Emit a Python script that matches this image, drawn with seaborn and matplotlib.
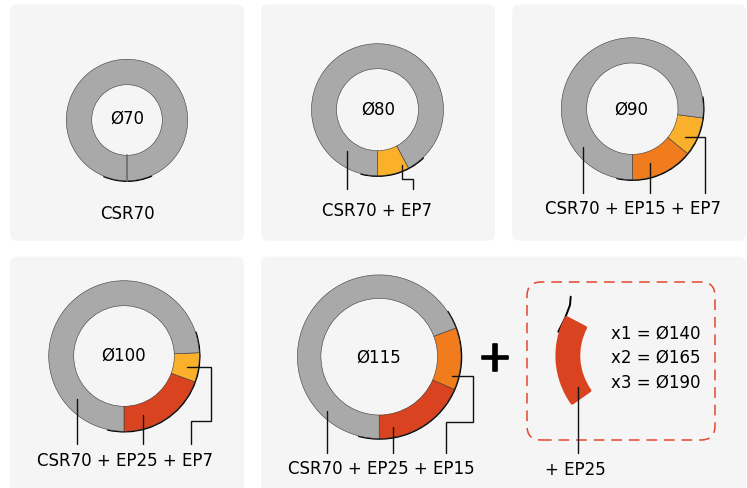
import matplotlib
matplotlib.use("Agg")
import matplotlib.pyplot as plt
import matplotlib.patheffects as pe
from matplotlib.patches import FancyBboxPatch, Arc
import seaborn as sns

sns.set_theme(style="white")
plt.rcParams["font.family"] = ["DejaVu Sans"]

GREY, YELLOW, ORANGE, RED = "#A9A9A9", "#FBB02C", "#F07C1E", "#D9431F"
PANEL = "#F5F5F5"
H = 488
FS = 12

# segment spans in degrees, counter-clockwise from the bottom; the CSR70 span closes each ring
ring_diameters = ["Ø70", "Ø80", "Ø90", "Ø100", "Ø115"]
ring_spans = [[], [28], [51, 31.5], [70, 22.5], [66.5, 44]]
ring_colors = [[], [YELLOW], [ORANGE, YELLOW], [RED, YELLOW], [RED, ORANGE]]
ring_centers = [(127, 120), (377.5, 109.7), (632.3, 108.7), (124, 356), (379.2, 356.7)]
ring_outer = [60.7, 66, 71, 75.3, 81.8]
ring_inner = [35.3, 41, 45.7, 50.3, 58.3]
ring_label_xy = [(127, 119), (378, 109.5), (631.7, 110), (123.3, 356), (379, 358)]
arc_ranges = [(247, 294), (255, 314), (257, 370), (257, 379), (255, 394)]

captions = ["CSR70", "CSR70 + EP7", "CSR70 + EP15 + EP7", "CSR70 + EP25 + EP7",
            "CSR70 + EP25 + EP15", "+ EP25"]
caption_xy = [(127, 214), (377, 211), (633.3, 209.5), (125.3, 461), (381, 469), (575, 470)]
size_lines = ["x1 = Ø140", "x2 = Ø165", "x3 = Ø190"]
size_y = [333.3, 357.7, 382.3]

panels = [(10, 4.5, 244, 240.7), (261, 4.5, 495, 240.7), (512.3, 4.5, 746, 240.7),
          (10, 256.7, 244, 497), (261, 256.7, 746, 497)]

leaders = [
    [(347.3, 151), (347.3, 189)],
    [(401.7, 165), (401.7, 179.3), (412.7, 179.3), (412.7, 189)],
    [(583.3, 146.7), (583.3, 193)],
    [(650, 163), (650, 193)],
    [(685, 137), (704.7, 137), (704.7, 193)],
    [(77.3, 399), (77.3, 444.3)],
    [(143.3, 415), (143.3, 444.3)],
    [(187.3, 366.7), (211.3, 366.7), (211.3, 420.7), (191, 420.7), (191, 444.3)],
    [(326.7, 411), (326.7, 453.3)],
    [(393.3, 426.7), (393.3, 453.3)],
    [(451.7, 375.7), (473.3, 375.7), (473.3, 422), (446.3, 422), (446.3, 453.3)],
    [(578.3, 387.3), (578.3, 453.3)],
]
piece_curve = [(570.7, 296.7), (570, 305), (565, 318.3), (558.3, 331.7)]

fig = plt.figure(figsize=(7.47, 4.88), dpi=100, facecolor="white")
ax = fig.add_axes([0, 0, 1, 1])


def flip(points):
    return [p[0] for p in points], [H - p[1] for p in points]


for x0, y0, x1, y1 in panels:
    ax.add_patch(FancyBboxPatch((x0, H - y1), x1 - x0, y1 - y0,
                                boxstyle="round,pad=0,rounding_size=7",
                                fc=PANEL, ec="none", zorder=0))

for center, ro, ri, spans, cols, lab, lxy, (a0, a1) in zip(
        ring_centers, ring_outer, ring_inner, ring_spans, ring_colors,
        ring_diameters, ring_label_xy, arc_ranges):
    cx, cy = center[0], H - center[1]
    ax.add_patch(Arc((cx + 0.2, cy - 0.2), 2 * ro + 0.3, 2 * ro + 0.3, theta1=a0, theta2=a1,
                     color="black", lw=1.3, zorder=1))
    values = list(spans) + [360 - sum(spans)]
    colors = list(cols) + [GREY]
    ax.pie(values, colors=colors, startangle=270, center=(cx, cy), radius=ro, frame=False,
           wedgeprops=dict(width=ro - ri, edgecolor="#3a3a3a", linewidth=0.4, zorder=2))
    ax.text(lxy[0], H - lxy[1], lab, ha="center", va="center", fontsize=FS, color="black", zorder=5)

# seam of the plain CSR70 ring
ax.plot([127, 127], [H - 155, H - 181], color="#707070", lw=1.3, zorder=3)

for pts in leaders:
    xs, ys = flip(pts)
    ax.plot(xs, ys, color="#111111", lw=1.0, zorder=4, solid_joinstyle="miter")

for (x, y), c in zip(caption_xy, captions):
    ax.text(x, H - y, c, ha="center", va="center", fontsize=FS, color="black", zorder=5)

# Detachable segment
xs, ys = flip(piece_curve)
ax.plot(xs, ys, color="black", lw=1.4, zorder=1)
ax.pie([63, 297], colors=[RED, "none"], startangle=152.4, center=(638.9, H - 355.6), radius=81.8,
       frame=False, wedgeprops=dict(width=21.5, linewidth=0))
ax.patches[-2].set(edgecolor=RED, linewidth=2.4, joinstyle="round", zorder=3)
ax.patches[-1].set(visible=False)

ax.add_patch(FancyBboxPatch((527, H - 440), 188, 158, boxstyle="round,pad=0,rounding_size=14",
                            fc="none", ec="#E4472D", lw=1.1, linestyle=(0, (7, 4.5)), zorder=3))

for y, t in zip(size_y, size_lines):
    ax.text(611, H - y, t, ha="left", va="center", fontsize=FS, color="black", zorder=5)

ax.text(495, H - 354, "+", ha="center", va="center_baseline", fontsize=30, color="black", zorder=5,
        path_effects=[pe.withStroke(linewidth=1.2, foreground="black")])

ax.set_xlim(0, 747)
ax.set_ylim(0, H)
ax.set_aspect("equal")
ax.axis("off")
fig.savefig("out.png", dpi=100, facecolor="white")
